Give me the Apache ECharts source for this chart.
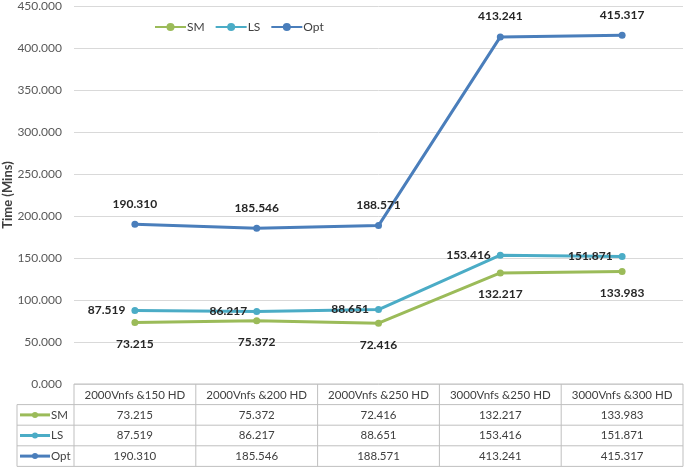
<!DOCTYPE html>
<html><head><meta charset="utf-8">
<script src="https://cdn.jsdelivr.net/npm/echarts@6/dist/echarts.min.js"></script>
<style>html,body{margin:0;padding:0;background:#fff}#c{width:685px;height:468px}</style>
</head><body><div id="c"></div>
<script>
const categories = ['2000Vnfs &150 HD','2000Vnfs &200 HD','2000Vnfs &250 HD','3000Vnfs &250 HD','3000Vnfs &300 HD'];
const seriesNames = ['SM','LS','Opt'];
const smValues = [73.215, 75.372, 72.416, 132.217, 133.983];
const lsValues = [87.519, 86.217, 88.651, 153.416, 151.871];
const optValues = [190.310, 185.546, 188.571, 413.241, 415.317];
const yAxisName = 'Time (Mins)';
const yMin = 0, yMax = 450, yStep = 50;

const colors = ['#9BBB59', '#4BACC6', '#4A7EBB'];
const FONT = 'Lato, "Liberation Sans", sans-serif';
const allValues = [smValues, lsValues, optValues];
const labelPos = [
  {position: 'bottom', distance: 12},
  {position: 'left', distance: 6},
  {position: 'top', distance: 11}
];

const chart = echarts.init(document.getElementById('c'));
chart.setOption({
  animation: false,
  color: colors,
  textStyle: {fontFamily: FONT},
  grid: {left: 74, right: 2, top: 6, bottom: 84, containLabel: false, outerBoundsMode: 'none'},
  legend: {
    data: seriesNames, left: 149, top: 16, itemWidth: 31, itemHeight: 10, itemGap: 10,
    textStyle: {fontFamily: FONT, fontSize: 12, color: '#404040', padding: [0,0,0,-4]}
  },
  xAxis: {
    type: 'category', data: categories, boundaryGap: true,
    axisLine: {show: false}, axisTick: {show: false}, axisLabel: {show: false}
  },
  yAxis: {
    type: 'value', min: yMin, max: yMax, interval: yStep,
    name: yAxisName, nameLocation: 'middle', nameGap: 60, nameMoveOverlap: false,
    nameTextStyle: {fontFamily: FONT, fontSize: 13, fontWeight: 'bold', color: '#404040'},
    axisLine: {show: false}, axisTick: {show: false},
    axisLabel: {formatter: v => v.toFixed(3), fontFamily: FONT, fontSize: 12, color: '#595959', margin: 12},
    splitLine: {lineStyle: {color: '#D9D9D9', width: 1}}
  },
  series: seriesNames.map((n, i) => ({
    name: n, type: 'line', data: allValues[i],
    symbol: 'circle', symbolSize: 7,
    lineStyle: {width: 3, color: colors[i]},
    itemStyle: {color: colors[i]},
    label: {
      show: true, position: labelPos[i].position, distance: labelPos[i].distance,
      formatter: p => p.value.toFixed(3),
      fontFamily: FONT, fontSize: 12, fontWeight: 'bold', color: '#262626'
    },
    z: 3 + i
  }))
});

// Data table drawn below the plot, positioned from the axes
const cx = categories.map((_, i) => chart.convertToPixel({xAxisIndex: 0}, i));
const band = cx[1] - cx[0];
const xL = cx[0] - band / 2, xR = cx[cx.length - 1] + band / 2;
const y0 = chart.convertToPixel({yAxisIndex: 0}, 0);
const rowH = 20.6;
const legX = 17;
const border = '#BFBFBF';
const g = [];
const line = (x1, y1, x2, y2) => g.push({type: 'line', shape: {x1, y1, x2, y2}, style: {stroke: border, lineWidth: 1}, silent: true});
const text = (t, x, y, align) => g.push({type: 'text', x, y, style: {text: t, fontFamily: FONT, fontSize: 11.5, fill: '#404040', align: align || 'center', verticalAlign: 'middle'}, silent: true});
const nRows = seriesNames.length;
line(xL, y0, xR, y0);
for (let r = 1; r <= nRows + 1; r++) line(legX, y0 + r * rowH, xR, y0 + r * rowH);
line(legX, y0 + rowH, legX, y0 + (nRows + 1) * rowH);
for (let i = 0; i <= categories.length; i++) {
  const x = xL + i * band;
  line(x, y0, x, y0 + (nRows + 1) * rowH);
}
categories.forEach((c, i) => text(c, cx[i], y0 + rowH / 2 + 0.5));
seriesNames.forEach((n, r) => {
  const yc = y0 + (r + 1.5) * rowH;
  g.push({type: 'line', shape: {x1: legX + 3, y1: yc, x2: legX + 33, y2: yc}, style: {stroke: colors[r], lineWidth: 3}, silent: true});
  g.push({type: 'circle', shape: {cx: legX + 18, cy: yc, r: 3}, style: {fill: colors[r]}, silent: true});
  text(n, legX + 34, yc, 'left');
  allValues[r].forEach((v, i) => text(v.toFixed(3), cx[i], yc));
});
chart.setOption({graphic: g});
</script></body></html>
